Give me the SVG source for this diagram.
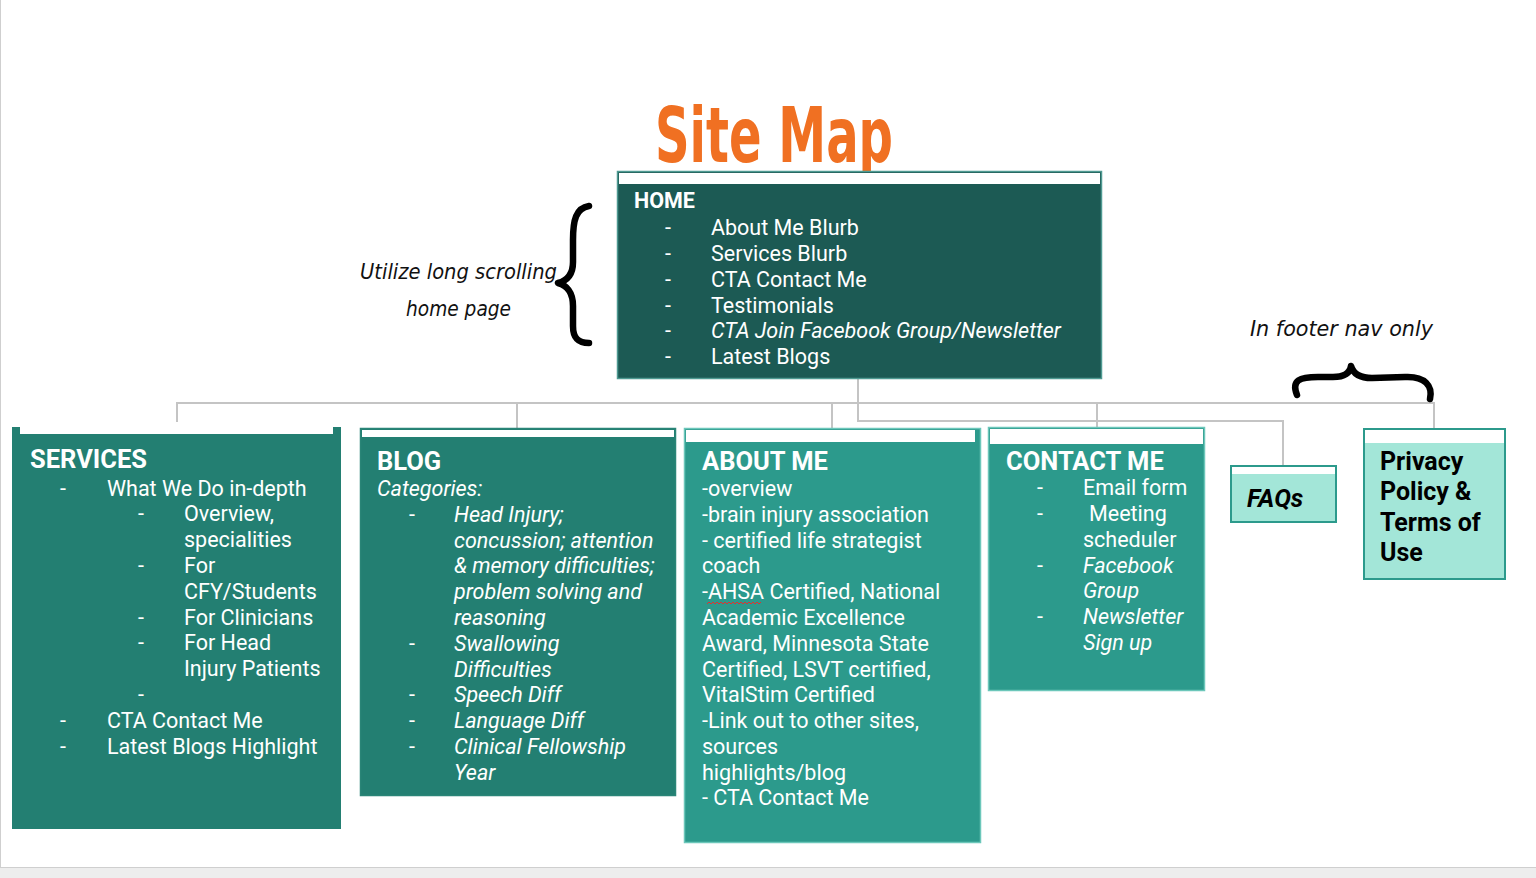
<svg xmlns="http://www.w3.org/2000/svg" width="1536" height="878" viewBox="0 0 1536 878">
<defs>
<style>
.t{font-family:Roboto,"Liberation Sans",sans-serif;font-size:21.5px;fill:#ffffff}
.i{font-style:italic}
.h{font-family:Roboto,"Liberation Sans",sans-serif;font-weight:bold;font-size:25.5px;fill:#ffffff}
.k{font-family:Roboto,"Liberation Sans",sans-serif;font-weight:bold;font-size:25px;fill:#000000}
.hand{font-family:"DejaVu Sans","Noto Sans",sans-serif;font-style:italic;font-size:21px;fill:#111111}
.con{fill:none;stroke:#c4c4c4;stroke-width:2}
.brace{fill:none;stroke:#000;stroke-width:6.5;stroke-linecap:round;stroke-linejoin:round}
.band{fill:#ffffff}
</style>
</defs>
<rect x="0" y="0" width="1536" height="878" fill="#ededed"/>
<rect x="0" y="0" width="1536" height="867" fill="#ffffff"/>
<line x1="0.5" y1="0" x2="0.5" y2="867" stroke="#cfcfcf" stroke-width="1"/>
<line x1="0" y1="867.5" x2="1536" y2="867.5" stroke="#cfcfcf" stroke-width="1"/>

<text x="655" y="162" font-family="'Liberation Sans Narrow','DejaVu Sans Condensed',sans-serif" font-weight="bold" font-size="76" fill="#f07022" textLength="238" lengthAdjust="spacingAndGlyphs">Site Map</text>

<g id="connectors">
<path class="con" d="M858,379 V421 H1283 V466"/>
<path class="con" d="M177,422 V403 H1434 V428"/>
<path class="con" d="M517,403 V429"/>
<path class="con" d="M832,403 V429"/>
<path class="con" d="M1097,403 V428"/>
</g>

<g id="annotations">
<text class="hand" x="360" y="279" textLength="197" lengthAdjust="spacingAndGlyphs">Utilize long scrolling</text>
<text class="hand" x="406" y="316" textLength="105" lengthAdjust="spacingAndGlyphs">home page</text>
<path class="brace" d="M589,206 C576,208 573,220 573,240 L573,262 C573,276 566,281 558,283 C566,285 573,292 573,306 L573,326 C573,338 578,343 589,343"/>
<text class="hand" x="1250" y="336" textLength="183" lengthAdjust="spacingAndGlyphs">In footer nav only</text>
<path class="brace" d="M1297,395 C1291,380 1300,377 1318,377 L1333,377 C1344,377 1350,373 1351,366 C1353,373 1359,378 1372,378 L1405,377 C1425,376 1433,386 1430,399"/>
</g>

<g id="home">
<rect x="617.5" y="171.5" width="484" height="207" fill="#1c5a54" stroke="#4f9a92" stroke-width="1.5"/>
<rect x="619" y="173" width="481" height="11" class="band"/>
<text class="t" x="634" y="208" font-weight="bold">HOME</text>
<text class="t" x="665" y="235">-</text><text class="t" x="711" y="235">About Me Blurb</text>
<text class="t" x="665" y="261">-</text><text class="t" x="711" y="261">Services Blurb</text>
<text class="t" x="665" y="287">-</text><text class="t" x="711" y="287">CTA Contact Me</text>
<text class="t" x="665" y="313">-</text><text class="t" x="711" y="313">Testimonials</text>
<text class="t" x="665" y="338">-</text><text class="t i" x="711" y="338">CTA Join Facebook Group/Newsletter</text>
<text class="t" x="665" y="364">-</text><text class="t" x="711" y="364">Latest Blogs</text>
</g>

<g id="services">
<rect x="12" y="427" width="329" height="402" fill="#237f72"/>
<rect x="20" y="427" width="313" height="7" class="band"/>
<text class="h" x="30" y="468">SERVICES</text>
<text class="t" x="60" y="496">-</text><text class="t" x="107" y="496">What We Do in-depth</text>
<text class="t" x="138" y="521">-</text><text class="t" x="184" y="521">Overview,</text>
<text class="t" x="184" y="547">specialities</text>
<text class="t" x="138" y="573">-</text><text class="t" x="184" y="573">For</text>
<text class="t" x="184" y="599">CFY/Students</text>
<text class="t" x="138" y="625">-</text><text class="t" x="184" y="625">For Clinicians</text>
<text class="t" x="138" y="650">-</text><text class="t" x="184" y="650">For Head</text>
<text class="t" x="184" y="676">Injury Patients</text>
<text class="t" x="138" y="702">-</text>
<text class="t" x="60" y="728">-</text><text class="t" x="107" y="728">CTA Contact Me</text>
<text class="t" x="60" y="754">-</text><text class="t" x="107" y="754">Latest Blogs Highlight</text>
</g>

<g id="blog">
<rect x="360.5" y="428.5" width="315" height="367" fill="#237f72" stroke="#2a8577" stroke-width="1.5"/>
<rect x="362" y="430" width="312" height="7" class="band"/>
<text class="h" x="377" y="470">BLOG</text>
<text class="t i" x="377" y="496">Categories:</text>
<text class="t" x="409" y="522">-</text><text class="t i" x="454" y="522">Head Injury;</text>
<text class="t i" x="454" y="548">concussion; attention</text>
<text class="t i" x="454" y="573">&amp; memory difficulties;</text>
<text class="t i" x="454" y="599">problem solving and</text>
<text class="t i" x="454" y="625">reasoning</text>
<text class="t" x="409" y="651">-</text><text class="t i" x="454" y="651">Swallowing</text>
<text class="t i" x="454" y="677">Difficulties</text>
<text class="t" x="409" y="702">-</text><text class="t i" x="454" y="702">Speech Diff</text>
<text class="t" x="409" y="728">-</text><text class="t i" x="454" y="728">Language Diff</text>
<text class="t" x="409" y="754">-</text><text class="t i" x="454" y="754">Clinical Fellowship</text>
<text class="t i" x="454" y="780">Year</text>
</g>

<g id="about">
<rect x="684.5" y="428.5" width="296" height="414" fill="#2c9a8c" stroke="#6cc7ba" stroke-width="1.5"/>
<rect x="686" y="430" width="289" height="12" class="band"/>
<text class="h" x="702" y="470">ABOUT ME</text>
<text class="t" x="702" y="496">-overview</text>
<text class="t" x="702" y="522">-brain injury association</text>
<text class="t" x="702" y="548">- certified life strategist</text>
<text class="t" x="702" y="573">coach</text>
<text class="t" x="702" y="599">-AHSA Certified, National</text>
<path d="M707,604 l2,-2 l2,2 l2,-2 l2,2 l2,-2 l2,2 l2,-2 l2,2 l2,-2 l2,2 l2,-2 l2,2 l2,-2 l2,2 l2,-2 l2,2 l2,-2 l2,2 l2,-2 l2,2 l2,-2 l2,2 l2,-2 l2,2 l2,-2 l2,2 l2,-2" fill="none" stroke="#e03030" stroke-width="1"/>
<text class="t" x="702" y="625">Academic Excellence</text>
<text class="t" x="702" y="651">Award, Minnesota State</text>
<text class="t" x="702" y="677">Certified, LSVT certified,</text>
<text class="t" x="702" y="702">VitalStim Certified</text>
<text class="t" x="702" y="728">-Link out to other sites,</text>
<text class="t" x="702" y="754">sources</text>
<text class="t" x="702" y="780">highlights/blog</text>
<text class="t" x="702" y="805">- CTA Contact Me</text>
</g>

<g id="contact">
<rect x="988.5" y="427.5" width="216" height="263" fill="#2c9a8c" stroke="#6cc7ba" stroke-width="1.5"/>
<rect x="990" y="429" width="213" height="15" class="band"/>
<text class="h" x="1006" y="470">CONTACT ME</text>
<text class="t" x="1037" y="495">-</text><text class="t" x="1083" y="495">Email form</text>
<text class="t" x="1037" y="521">-</text><text class="t" x="1089" y="521">Meeting</text>
<text class="t" x="1083" y="547">scheduler</text>
<text class="t" x="1037" y="573">-</text><text class="t i" x="1083" y="573">Facebook</text>
<text class="t i" x="1083" y="598">Group</text>
<text class="t" x="1037" y="624">-</text><text class="t i" x="1083" y="624">Newsletter</text>
<text class="t i" x="1083" y="650">Sign up</text>
</g>

<g id="faqs">
<rect x="1231" y="466" width="105" height="56" fill="#a3e6d8" stroke="#2c9a8c" stroke-width="2"/>
<rect x="1232" y="467" width="103" height="7" class="band"/>
<text class="k" x="1247" y="507" font-style="italic">FAQs</text>
</g>

<g id="privacy">
<rect x="1364" y="429" width="141" height="150" fill="#a3e6d8" stroke="#2c9a8c" stroke-width="2"/>
<rect x="1365" y="430" width="139" height="13" class="band"/>
<text class="k" x="1380" y="470">Privacy</text>
<text class="k" x="1380" y="500">Policy &amp;</text>
<text class="k" x="1380" y="531">Terms of</text>
<text class="k" x="1380" y="561">Use</text>
</g>
</svg>
